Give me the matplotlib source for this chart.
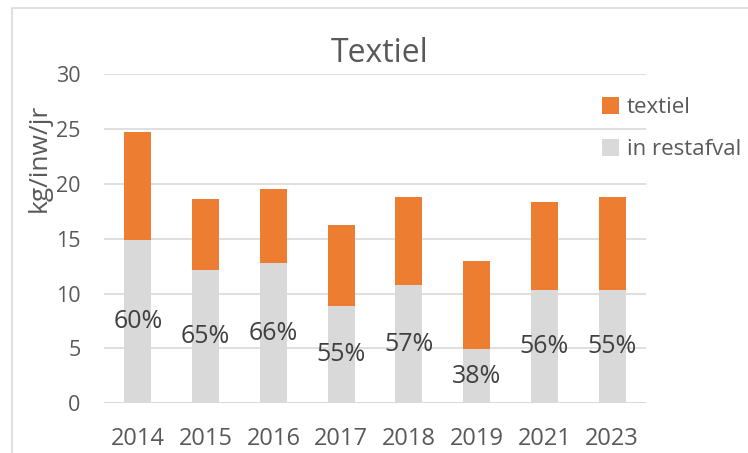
import matplotlib.pyplot as plt
from matplotlib.patches import Rectangle

# Data
years = ['2014', '2015', '2016', '2017', '2018', '2019', '2021', '2023']
restafval = [14.9, 12.1, 12.8, 8.9, 10.75, 4.95, 10.35, 10.3]
totaal = [24.7, 18.6, 19.5, 16.2, 18.8, 12.95, 18.3, 18.75]
pct = [60, 65, 66, 55, 57, 38, 56, 55]
textiel = [t - r for t, r in zip(totaal, restafval)]

orange = '#ED7D31'
grey = '#D9D9D9'
txt = '#595959'

plt.rcParams['font.family'] = ['Open Sans', 'DejaVu Sans']

fig = plt.figure(figsize=(7.48, 4.53), dpi=100)
ax = fig.add_axes([104 / 748, 1 - 403.3 / 453, 542 / 748, 329.3 / 453])

x = range(len(years))
ax.bar(x, restafval, width=0.4, color=grey, label='in restafval', zorder=2)
ax.bar(x, textiel, width=0.4, bottom=restafval, color=orange, label='textiel', zorder=2)

for i, (r, p) in enumerate(zip(restafval, pct)):
    ax.text(i, r / 2, f'{p}%', ha='center', va='center', fontsize=18, color='#404040', zorder=3)

ax.set_xlim(-0.5, len(years) - 0.5)
ax.set_ylim(0, 30)
ax.set_yticks([0, 5, 10, 15, 20, 25, 30])
ax.set_xticks(list(x))
ax.set_xticklabels(years)
ax.tick_params(axis='y', length=0, pad=17, labelsize=15.5, labelcolor=txt)
ax.tick_params(axis='x', length=0, pad=17, labelsize=17, labelcolor=txt)
ax.grid(axis='y', color=grey, linewidth=1.2, zorder=0)
for s in ax.spines.values():
    s.set_visible(False)
ax.axhline(0, color=grey, linewidth=1.2, zorder=1)

ax.set_ylabel('kg/inw/jr', fontsize=19, color=txt)
ax.yaxis.set_label_coords(-0.096, 0.745)
fig.text(380 / 748, 1 - 53 / 453, 'Textiel', ha='center', va='center', fontsize=23, color=txt)

handles, labels = ax.get_legend_handles_labels()
fig.legend(handles[::-1], labels[::-1], loc='upper left', bbox_to_anchor=(591 / 748, 1 - 86 / 453),
           frameon=False, fontsize=16, labelcolor=txt, handlelength=0.75, handleheight=0.75,
           handletextpad=0.35, labelspacing=0.95, borderpad=0)

# light chart border
fig.patches.append(Rectangle((12 / 748, -0.1), 1.2, 1.1 - 8 / 453, transform=fig.transFigure,
                             fill=False, edgecolor=grey, linewidth=1.2))

plt.savefig('out.png', dpi=100)
